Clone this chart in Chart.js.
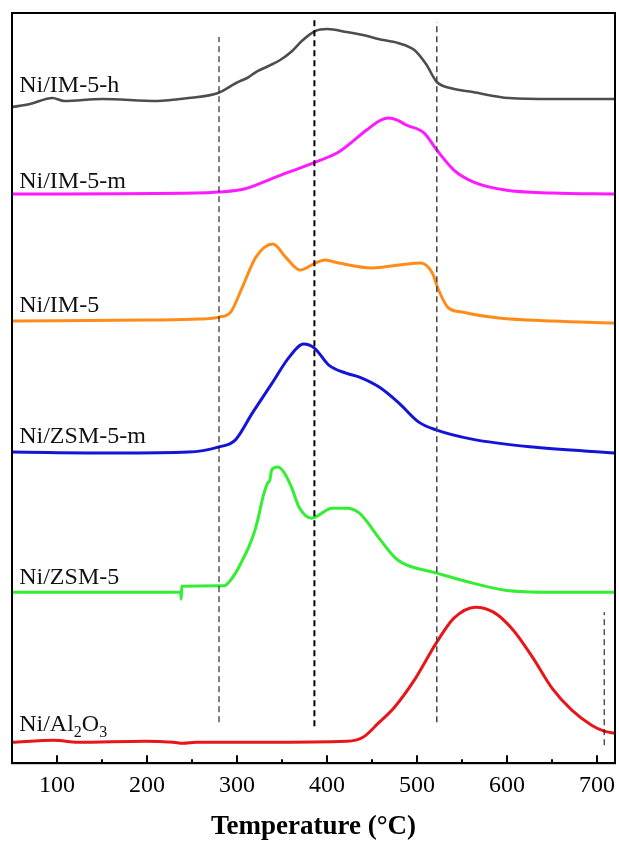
<!DOCTYPE html>
<html lang="en">
<head>
    <meta charset="UTF-8">
    <title>H2-TPR profiles</title>
    <script src="https://cdn.jsdelivr.net/npm/chart.js"></script>
    <style>
        body {
            margin: 0;
            background: #fff;
        }
        .wrap {
            width: 619px;
            height: 841px;
        }
    </style>
</head>
<body>
    <div class="wrap"><canvas id="tprChart"></canvas></div>

    <script>
// sample names (use _n for a subscript)
let names = ["Ni/IM-5-h", "Ni/IM-5-m", "Ni/IM-5", "Ni/ZSM-5-m", "Ni/ZSM-5", "Ni/Al_2O_3"];
let colors = ["#4d4d4d", "#ff1aff", "#ff8c1a", "#1414d9", "#33ee33", "#e8161b"];

// temperatures (°C) and stacked H2 consumption signal (a.u.) for each sample
let tempH = [50, 70, 95, 108, 150, 211, 246, 279, 299, 313, 321, 335, 348, 360, 372, 387, 400, 422, 440, 457, 479, 497, 510, 522, 537, 562, 602, 650, 720];
let sigH = [656, 659, 665, 662, 664, 662, 665, 670, 680, 686, 691, 697, 703, 711, 722, 732, 734, 731, 728, 724, 720, 713, 699, 681, 675, 671, 665, 664, 664];

let tempM = [50, 255, 279, 308, 343, 387, 413, 444, 458, 468, 478, 488, 508, 522, 541, 563, 598, 650, 720];
let sigM = [569, 570, 571, 574, 586, 601, 611, 633, 642, 645, 643, 638, 630, 613, 593, 581, 573, 570, 569];

let tempIM = [50, 200, 258, 280, 293, 306, 321, 340, 354, 370, 387, 398, 413, 450, 480, 504, 517, 524, 534, 550, 591, 650, 720];
let sigIM = [442, 443, 444, 446, 451, 476, 506, 519, 506, 493, 500, 503, 500, 495, 498, 500, 490, 473, 456, 451, 445, 442, 440];

let tempZM = [50, 167, 246, 279, 298, 317, 339, 358, 374, 386, 402, 421, 436, 458, 480, 502, 522, 561, 629, 720];
let sigZM = [311, 310, 311, 316, 323, 350, 380, 406, 419, 415, 398, 390, 386, 376, 360, 341, 333, 324, 316, 310];

let tempZ = [50, 237.5, 238, 238.6, 286, 291, 299, 306, 313, 321, 330, 334, 336.5, 338.5, 345, 352, 360.5, 369, 383, 391, 405, 422, 436, 457, 475, 484, 522, 562, 598, 650, 720];
let sigZ = [171, 171, 164, 177, 177.5, 181, 191, 203, 216, 236, 270, 280, 283, 293, 296, 291, 276, 256, 245, 248, 255, 255, 250, 226, 206, 200, 190, 180, 173, 171, 171];

let tempAl = [50, 97, 123, 198, 229, 240, 255, 330, 422, 440, 457, 475, 497, 522, 541, 565, 585, 607, 629, 650, 672, 694, 708, 720];
let sigAl = [21, 23, 21, 22, 21, 20, 21, 21, 22, 26, 40, 56, 83, 121, 145, 156, 151, 133, 105, 75, 53, 38, 32, 30];

let temps = [tempH, tempM, tempIM, tempZM, tempZ, tempAl];
let signals = [sigH, sigM, sigIM, sigZM, sigZ, sigAl];

// where each name sits (temperature, signal)
let labelT = [58, 58, 58, 58, 58, 58];
let labelV = [671, 575, 451, 320, 179, 32];

// dashed guide lines
let guideT = [280, 386, 522, 708];
let guideLow = [41, 37, 41, 18];
let guideHigh = [726, 743, 741, 151];
let guideColor = ["#000", "#000", "#444", "#000"];
let guideWidth = [1, 2, 1.5, 1];

// x axis ticks
let majorTicks = [100, 200, 300, 400, 500, 600, 700];
let minorTicks = [150, 250, 350, 450, 550, 650];

let datasets = [];

guideT.forEach((t, i) => {
    datasets.push({
        data: [{x: t, y: guideLow[i]}, {x: t, y: guideHigh[i]}],
        borderColor: guideColor[i],
        borderWidth: guideWidth[i],
        borderDash: [6, 4],
        pointRadius: 0
    });
});

names.forEach((n, i) => {
    datasets.push({
        data: temps[i].map((t, j) => ({x: t, y: signals[i][j]})),
        borderColor: colors[i],
        borderWidth: i == 0 ? 2.6 : 3,
        pointRadius: 0,
        cubicInterpolationMode: 'monotone'
    });
});

// frame, inward ticks and sample names
let decorPlugin = {
    id: 'decor',
    afterDatasetsDraw(chart) {
        let ctx = chart.ctx;
        let area = chart.chartArea;
        let xs = chart.scales.x;
        let ys = chart.scales.y;
        ctx.save();

        ctx.strokeStyle = '#000';
        ctx.lineWidth = 2;
        ctx.strokeRect(area.left, area.top, area.right - area.left, area.bottom - area.top);

        majorTicks.forEach(v => {
            let x = xs.getPixelForValue(v);
            ctx.beginPath();
            ctx.moveTo(x, area.bottom);
            ctx.lineTo(x, area.bottom - 8);
            ctx.stroke();
        });
        minorTicks.forEach(v => {
            let x = xs.getPixelForValue(v);
            ctx.beginPath();
            ctx.moveTo(x, area.bottom);
            ctx.lineTo(x, area.bottom - 4);
            ctx.stroke();
        });

        ctx.fillStyle = '#111';
        ctx.textBaseline = 'alphabetic';
        names.forEach((n, i) => {
            let x = xs.getPixelForValue(labelT[i]);
            let y = ys.getPixelForValue(labelV[i]);
            let parts = n.split('_');
            parts.forEach((p, k) => {
                if (k > 0) {
                    ctx.font = '16px "Liberation Serif", "Times New Roman", serif';
                    ctx.fillText(p[0], x, y + 6);
                    x += ctx.measureText(p[0]).width;
                    p = p.slice(1);
                }
                ctx.font = '24px "Liberation Serif", "Times New Roman", serif';
                ctx.fillText(p, x, y);
                x += ctx.measureText(p).width;
            });
        });
        ctx.restore();
    }
};

let ctx1 = document.getElementById('tprChart').getContext('2d');
let tprChart = new Chart(ctx1, {
    type: 'line',
    data: { datasets: datasets },
    plugins: [decorPlugin],
    options: {
        responsive: true,
        maintainAspectRatio: false,
        animation: false,
        layout: { padding: { left: 12, right: 4, top: 13, bottom: 0 } },
        plugins: {
            legend: { display: false },
            tooltip: { enabled: false }
        },
        scales: {
            x: {
                type: 'linear',
                min: 50,
                max: 720,
                afterBuildTicks: scale => {
                    scale.ticks = majorTicks.map(v => ({ value: v }));
                },
                afterFit: scale => {
                    scale.paddingLeft = 0;
                    scale.paddingRight = 0;
                },
                grid: { display: false, drawTicks: false },
                border: { display: true, color: '#000', width: 2 },
                ticks: {
                    color: '#000',
                    padding: 8,
                    maxRotation: 0,
                    autoSkip: false,
                    font: { family: '"Liberation Serif", "Times New Roman", serif', size: 24 }
                },
                title: {
                    display: true,
                    text: 'Temperature (°C)',
                    color: '#000',
                    padding: { top: 6, bottom: 0 },
                    font: { family: '"Liberation Serif", "Times New Roman", serif', size: 27, weight: 'bold', lineHeight: 1 }
                }
            },
            y: {
                display: false,
                min: 0,
                max: 750
            }
        }
    }
});
    </script>
</body>
</html>
